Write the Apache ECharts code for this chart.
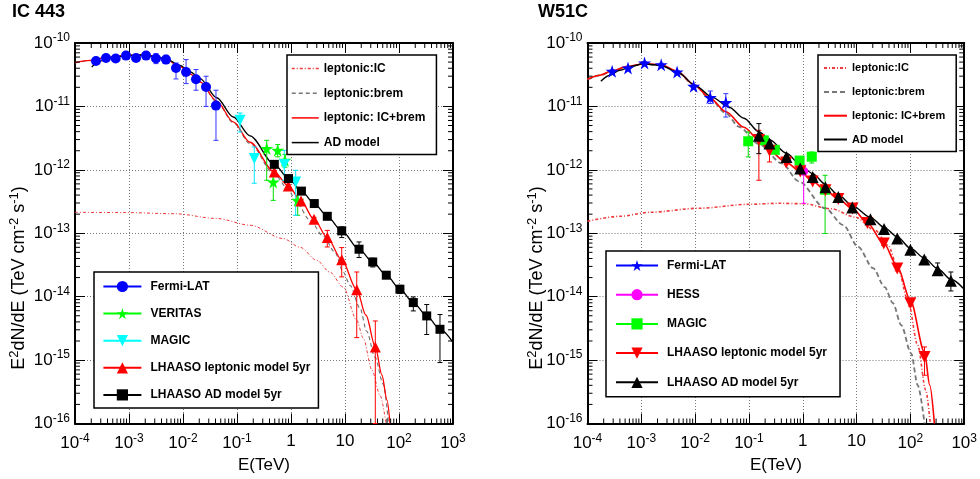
<!DOCTYPE html>
<html><head><meta charset="utf-8">
<script src="https://cdn.jsdelivr.net/npm/echarts@6/dist/echarts.min.js"></script>
<style>html,body{margin:0;padding:0;background:#fff}#c{width:980px;height:479px}</style>
</head><body><div id="c"></div>
<script>
// ---------------- axis ticks ----------------
const xTickExp = [-4, -3, -2, -1, 0, 1, 2, 3];
const yTickExp = [-16, -15, -14, -13, -12, -11, -10];
const X_MIN = 1e-4, X_MAX = 1e3, F_MIN = 1e-16, F_MAX = 1e-10;

// ---------------- IC 443 data: [E (TeV), E2dN/dE, low, high] ----------------
const ic_fermi = [
  [2.45e-4, 5.2e-11, 4.9e-11, 5.5e-11], [3.75e-4, 5.8e-11, 5.5e-11, 6.1e-11],
  [5.67e-4, 5.68e-11, 5.4e-11, 6.0e-11], [8.80e-4, 6.33e-11, 6.0e-11, 6.7e-11],
  [1.35e-3, 5.8e-11, 5.5e-11, 6.1e-11], [2.07e-3, 6.33e-11, 5.9e-11, 6.8e-11],
  [3.16e-3, 5.68e-11, 4.73e-11, 6.8e-11], [4.84e-3, 5.47e-11, 4.73e-11, 6.4e-11],
  [7.42e-3, 4.03e-11, 2.71e-11, 4.84e-11], [1.14e-2, 3.49e-11, 2.29e-11, 5.47e-11],
  [1.74e-2, 2.68e-11, 1.8e-11, 3.81e-11], [2.67e-2, 2.02e-11, 1.0e-11, 2.99e-11],
  [4.08e-2, 1.03e-11, 2.92e-12, 1.8e-11]
];
const ic_veritas = [
  [0.355, 2.16e-12, 6.84e-13, 2.92e-12], [0.47, 6.4e-13, 3.3e-13, 1.18e-12],
  [0.567, 2.03e-12, 1.6e-12, 2.5e-12], [0.774, 1.41e-12, 1.1e-12, 1.75e-12],
  [1.33, 3.31e-13, 1.92e-13, 5.12e-13]
];
const ic_magic = [
  [0.114, 6.04e-12, 3.95e-12, 7.87e-12], [0.209, 1.51e-12, 6.14e-13, 2.29e-12],
  [0.752, 1.21e-12, 6.84e-13, 2.03e-12], [1.22, 6.44e-13, 1.92e-13, 9.84e-13]
];
const ic_lhaasoLep = [
  [0.491, 9.25e-13, 8.8e-13, 9.7e-13], [0.891, 5.57e-13, 5.3e-13, 5.85e-13],
  [1.53, 3.23e-13, 3.05e-13, 3.4e-13], [2.67, 1.66e-13, 1.55e-13, 1.78e-13],
  [4.70, 8.55e-14, 6.08e-14, 1.11e-13], [8.69, 3.82e-14, 2.05e-14, 5.94e-14],
  [16.5, 1.28e-14, 2.26e-15, 2.45e-14], [36.4, 1.61e-15, 1.0e-16, 4.14e-15]
];
const ic_lhaasoAD = [
  [0.491, 1.22e-12, 1.17e-12, 1.27e-12], [0.899, 7.28e-13, 6.95e-13, 7.6e-13],
  [1.56, 4.62e-13, 4.4e-13, 4.85e-13], [2.70, 2.94e-13, 2.8e-13, 3.08e-13],
  [4.70, 1.85e-13, 1.76e-13, 1.95e-13], [8.69, 1.09e-13, 8.55e-14, 1.26e-13],
  [18.2, 5.60e-14, 4.14e-14, 7.29e-14], [32.6, 3.52e-14, 2.94e-14, 4.04e-14],
  [58.2, 2.18e-14, 1.95e-14, 2.43e-14], [104, 1.31e-14, 1.12e-14, 1.51e-14],
  [184, 8.07e-15, 5.96e-15, 9.9e-15], [326, 4.97e-15, 2.53e-15, 7.52e-15],
  [574, 3.06e-15, 9.14e-16, 5.23e-15]
];
// IC 443 model curves: [E, E2dN/dE]
const ic_modelIC = [
  [1.0e-4, 2.14e-13], [8.43e-4, 2.12e-13], [7.11e-3, 2.03e-13], [4.21e-2, 1.71e-13],
  [0.174, 1.34e-13], [0.72, 8.24e-14], [1.47, 6.01e-14], [2.99, 3.75e-14],
  [5.27, 2.43e-14], [9.31, 1.41e-14], [16.5, 4.25e-15], [21.8, 2.21e-15],
  [31.6, 6.92e-16], [44.5, 2.79e-16], [57.4, 1.01e-16]
];
const ic_modelBrem = [
  [1.0e-4, 4.85e-11], [1.90e-4, 5.27e-11], [3.59e-4, 5.79e-11], [6.81e-4, 6.22e-11],
  [1.29e-3, 6.41e-11], [2.45e-3, 6.29e-11], [4.64e-3, 5.58e-11], [8.80e-3, 4.25e-11],
  [1.35e-2, 3.23e-11], [2.07e-2, 2.42e-11], [4.21e-2, 1.19e-11], [8.53e-2, 5.55e-12],
  [0.174, 2.59e-12], [0.491, 8.51e-13], [0.879, 5.03e-13], [1.28, 2.97e-13],
  [2.25, 1.60e-13], [3.96, 8.97e-14], [6.53, 5.01e-14], [9.31, 2.43e-14],
  [12.4, 1.51e-14], [19.0, 6.57e-15], [25.2, 2.85e-15], [35.9, 1.11e-15],
  [51.2, 4.16e-16], [64.0, 1.0e-16]
];
const ic_modelTot = [
  [1.0e-4, 4.91e-11], [1.90e-4, 5.33e-11], [3.59e-4, 5.85e-11], [6.81e-4, 6.28e-11],
  [1.29e-3, 6.47e-11], [2.45e-3, 6.35e-11], [4.64e-3, 5.64e-11], [8.80e-3, 4.30e-11],
  [1.35e-2, 3.27e-11], [2.07e-2, 2.44e-11], [4.21e-2, 1.21e-11], [8.53e-2, 5.69e-12],
  [0.174, 2.72e-12], [0.491, 9.25e-13], [0.891, 5.57e-13], [1.53, 3.23e-13],
  [2.67, 1.66e-13], [4.70, 8.55e-14], [8.69, 3.82e-14], [16.5, 1.28e-14],
  [24.5, 5.09e-15], [36.4, 1.61e-15], [48.4, 5.77e-16], [59.9, 2.33e-16], [68.1, 1.0e-16]
];
const ic_modelAD = [
  [2.04e-4, 4.19e-11], [2.90e-4, 5.15e-11], [4.45e-4, 5.85e-11], [8.43e-4, 6.28e-11],
  [1.60e-3, 6.47e-11], [3.03e-3, 6.17e-11], [4.99e-3, 5.53e-11], [8.80e-3, 4.45e-11],
  [1.35e-2, 3.52e-11], [2.07e-2, 2.75e-11], [4.21e-2, 1.37e-11], [8.53e-2, 6.81e-12],
  [0.174, 3.44e-12], [0.491, 1.22e-12], [0.899, 7.28e-13], [1.56, 4.62e-13],
  [2.70, 2.94e-13], [4.70, 1.85e-13], [8.69, 1.09e-13], [18.2, 5.60e-14],
  [32.6, 3.52e-14], [58.2, 2.18e-14], [104, 1.31e-14], [184, 8.07e-15],
  [326, 4.97e-15], [574, 3.06e-15], [1000, 1.91e-15]
];

// ---------------- W51C data ----------------
const w_fermi = [
  [2.87e-4, 3.58e-11, 3.4e-11, 3.78e-11], [5.66e-4, 4.04e-11, 3.84e-11, 4.25e-11],
  [1.15e-3, 4.84e-11, 4.6e-11, 5.1e-11], [2.34e-3, 4.56e-11, 4.33e-11, 4.8e-11],
  [4.62e-3, 3.49e-11, 3.3e-11, 3.7e-11], [9.38e-3, 2.08e-11, 1.95e-11, 2.2e-11],
  [1.91e-2, 1.38e-11, 1.11e-11, 1.75e-11], [3.72e-2, 1.15e-11, 6.8e-12, 1.59e-11]
];
const w_hess = [[1.04, 9.5e-13, 2.97e-13, 1.18e-12]];
const w_magic = [
  [0.097, 2.82e-12, 1.6e-12, 3.95e-12], [0.189, 2.92e-12, 2.6e-12, 3.2e-12],
  [0.302, 2.07e-12, 1.85e-12, 2.3e-12], [0.873, 1.40e-12, 1.2e-12, 1.6e-12],
  [1.47, 1.61e-12, 1.28e-12, 1.91e-12], [2.60, 4.85e-13, 9.9e-14, 8.2e-13]
];
const w_lhaasoLep = [
  [0.153, 2.96e-12, 6.85e-13, 4.2e-12], [0.241, 2.00e-12, 1.33e-12, 2.29e-12],
  [0.492, 1.31e-12, 1.2e-12, 1.43e-12], [0.899, 9.42e-13, 8.8e-13, 1.0e-12],
  [1.53, 6.56e-13, 6.2e-13, 6.95e-13], [2.64, 4.76e-13, 4.5e-13, 5.05e-13],
  [4.58, 3.46e-13, 3.25e-13, 3.68e-13], [8.41, 2.45e-13, 2.3e-13, 2.6e-13],
  [15.9, 1.45e-13, 1.35e-13, 1.56e-13], [32.0, 6.88e-14, 6.4e-14, 7.4e-14],
  [57.0, 2.77e-14, 2.55e-14, 3.0e-14], [100, 7.87e-15, 7.1e-15, 8.7e-15],
  [183, 1.12e-15, 5.77e-16, 1.61e-15]
];
const w_lhaasoAD = [
  [0.153, 3.44e-12, 1.8e-12, 5.36e-12], [0.241, 2.59e-12, 2.45e-12, 2.75e-12],
  [0.497, 1.60e-12, 1.52e-12, 1.68e-12], [0.899, 1.05e-12, 1.0e-12, 1.1e-12],
  [1.53, 7.71e-13, 7.35e-13, 8.1e-13], [2.64, 5.31e-13, 5.05e-13, 5.6e-13],
  [4.58, 3.73e-13, 3.55e-13, 3.92e-13], [8.32, 2.54e-13, 2.42e-13, 2.67e-13],
  [18.1, 1.66e-13, 1.58e-13, 1.75e-13], [32.4, 1.17e-13, 1.11e-13, 1.23e-13],
  [57.0, 8.24e-14, 7.8e-14, 8.7e-14], [100, 5.50e-14, 5.15e-14, 5.9e-14],
  [181, 3.85e-14, 3.5e-14, 4.2e-14], [321, 2.61e-14, 2.25e-14, 3.4e-14],
  [566, 1.78e-14, 1.23e-14, 2.45e-14]
];
const w_modelIC = [
  [1.0e-4, 1.55e-13], [3.98e-4, 1.85e-13], [1.43e-3, 2.14e-13], [1.19e-2, 2.48e-13],
  [0.100, 2.86e-13], [0.358, 2.97e-13], [1.04, 2.92e-13], [3.40, 2.43e-13],
  [9.44, 1.79e-13], [22.1, 1.11e-13], [38.4, 6.47e-14], [58.7, 2.81e-14],
  [89.8, 8.79e-15], [137, 1.71e-15], [193, 3.35e-16], [234, 1.0e-16]
];
const w_modelBrem = [
  [1.0e-4, 2.66e-11], [1.70e-4, 3.08e-11], [2.87e-4, 3.63e-11], [5.66e-4, 4.27e-11],
  [1.15e-3, 4.67e-11], [2.34e-3, 4.50e-11], [4.62e-3, 3.55e-11], [9.38e-3, 2.20e-11],
  [1.91e-2, 1.32e-11], [3.72e-2, 7.80e-12], [6.53e-2, 4.78e-12], [0.153, 2.55e-12],
  [0.412, 1.26e-12], [0.837, 6.60e-13], [2.61, 2.48e-13], [5.67, 1.34e-13],
  [10.7, 6.08e-14], [20.3, 2.81e-14], [33.4, 1.41e-14], [47.5, 7.87e-15],
  [67.6, 3.54e-15], [103, 1.28e-15], [137, 4.01e-16], [183, 1.0e-16]
];
const w_modelTot = [
  [1.0e-4, 2.68e-11], [1.70e-4, 3.10e-11], [2.87e-4, 3.65e-11], [5.66e-4, 4.30e-11],
  [1.15e-3, 4.70e-11], [2.34e-3, 4.53e-11], [4.62e-3, 3.58e-11], [9.38e-3, 2.23e-11],
  [1.91e-2, 1.34e-11], [3.72e-2, 8.23e-12], [8.09e-2, 4.69e-12], [0.153, 2.96e-12],
  [0.241, 2.00e-12], [0.492, 1.31e-12], [0.899, 9.42e-13], [1.53, 6.56e-13],
  [2.64, 4.76e-13], [4.58, 3.46e-13], [8.41, 2.45e-13], [15.9, 1.45e-13],
  [32.0, 6.88e-14], [57.0, 3.02e-14], [100, 8.79e-15], [183, 1.33e-15],
  [229, 4.01e-16], [279, 1.0e-16]
];
const w_modelAD = [
  [1.77e-4, 2.49e-11], [2.60e-4, 3.10e-11], [3.98e-4, 3.71e-11], [6.63e-4, 4.30e-11],
  [1.07e-3, 4.70e-11], [1.76e-3, 4.53e-11], [2.51e-3, 4.30e-11], [5.10e-3, 3.30e-11],
  [1.04e-2, 2.08e-11], [2.10e-2, 1.39e-11], [4.27e-2, 9.68e-12], [8.09e-2, 6.50e-12],
  [0.153, 3.98e-12], [0.241, 2.99e-12], [0.497, 1.83e-12], [0.899, 1.21e-12],
  [1.53, 8.70e-13], [2.64, 5.90e-13], [4.58, 4.00e-13], [8.32, 2.73e-13],
  [18.1, 1.78e-13], [32.4, 1.24e-13], [57.0, 8.80e-14], [100, 5.80e-14],
  [181, 4.07e-14], [321, 2.76e-14], [566, 1.88e-14], [1000, 1.31e-14]
];

// ---------------- helpers ----------------
// ECharts log scale rounds tiny tick values to 0, so y is plotted in units of 1e-16.
const Y_UNIT = 1e-16;
const sy = v => v / Y_UNIT;
const YS_MIN = sy(F_MIN), YS_MAX = sy(F_MAX);
const FONT = 'Liberation Sans, Arial, Helvetica, sans-serif';
const STAR = 'path://M50,0 L61,35 L98,35 L68,57 L79,91 L50,70 L21,91 L32,57 L2,35 L39,35 Z';
const DTRI = 'path://M0,0 L100,0 L50,87 Z';

function curve(name, arr, gi, color, width, type) {
  return { name, type: 'line', xAxisIndex: gi * 2, yAxisIndex: gi * 2, data: arr.map(d => [d[0], sy(d[1])]),
    showSymbol: false, symbol: 'none', smooth: 0.3, smoothMonotone: 'x', z: 2, silent: true,
    lineStyle: { color, width, type: type || 'solid' }, itemStyle: { color } };
}
function errBars(arr, gi, color) {
  return { type: 'custom', xAxisIndex: gi * 2, yAxisIndex: gi * 2, silent: true, z: 3,
    data: arr.map(d => [d[0], sy(d[1]), sy(d[2]), sy(d[3])]), encode: { x: 0, y: 1 },
    renderItem: (p, api) => {
      const x = api.value(0);
      const a = api.coord([x, api.value(2)]), b = api.coord([x, api.value(3)]);
      const st = { stroke: color, lineWidth: 1 }, cw = 2.5;
      return { type: 'group', children: [
        { type: 'line', shape: { x1: a[0], y1: a[1], x2: b[0], y2: b[1] }, style: st },
        { type: 'line', shape: { x1: a[0] - cw, y1: a[1], x2: a[0] + cw, y2: a[1] }, style: st },
        { type: 'line', shape: { x1: b[0] - cw, y1: b[1], x2: b[0] + cw, y2: b[1] }, style: st }
      ] };
    } };
}
function points(name, arr, gi, color, symbol, size) {
  return { name, type: 'scatter', xAxisIndex: gi * 2, yAxisIndex: gi * 2, z: 4, silent: true,
    data: arr.map(d => [d[0], sy(d[1])]), symbol, symbolSize: size, itemStyle: { color, opacity: 1 } };
}
function legendDummy(name, gi, color, symbol) {
  return { name, type: 'line', xAxisIndex: gi * 2, yAxisIndex: gi * 2, data: [], symbol,
    itemStyle: { color }, lineStyle: { color, width: 2 } };
}
const minorX = [], minorY = [];
for (let e = -4; e < 3; e++) for (let m = 2; m <= 9; m++) minorX.push(m * Math.pow(10, e));
for (let e = 0; e < 6; e++) for (let m = 2; m <= 9; m++) minorY.push(m * Math.pow(10, e));
function minorTicks(gi) {
  const L = 5, st = { stroke: '#000', lineWidth: 1 };
  return [
    { type: 'custom', xAxisIndex: gi * 2, yAxisIndex: gi * 2, silent: true, z: 5,
      data: minorX.map(v => [v, YS_MIN]), encode: { x: 0, y: 1 },
      renderItem: (p, api) => {
        const v = api.value(0), b = api.coord([v, YS_MIN]), t = api.coord([v, YS_MAX]);
        return { type: 'group', children: [
          { type: 'line', shape: { x1: b[0], y1: b[1], x2: b[0], y2: b[1] - L }, style: st },
          { type: 'line', shape: { x1: t[0], y1: t[1], x2: t[0], y2: t[1] + L }, style: st }] };
      } },
    { type: 'custom', xAxisIndex: gi * 2, yAxisIndex: gi * 2, silent: true, z: 5,
      data: minorY.map(v => [X_MIN, v]), encode: { x: 0, y: 1 },
      renderItem: (p, api) => {
        const v = api.value(1), l = api.coord([X_MIN, v]), r = api.coord([X_MAX, v]);
        return { type: 'group', children: [
          { type: 'line', shape: { x1: l[0], y1: l[1], x2: l[0] + L, y2: l[1] }, style: st },
          { type: 'line', shape: { x1: r[0], y1: r[1], x2: r[0] - L, y2: r[1] }, style: st }] };
      } }
  ];
}
const supRich = { s: { fontSize: 12, fontFamily: FONT, color: '#000', padding: [0, 0, 10, 0] } };
const supRichT = { s: { fontSize: 13, fontFamily: FONT, color: '#000', padding: [0, 0, 10, 0] } };
function xAx(gi, primary) {
  return { type: 'log', logBase: 10, gridIndex: gi, position: primary ? 'bottom' : 'top', min: X_MIN, max: X_MAX, splitNumber: 7,
    axisLine: { show: true, onZero: false, lineStyle: { color: '#000', width: 2 } },
    axisTick: { show: true, inside: true, length: 10, lineStyle: { color: '#000', width: 1 } },
    axisLabel: primary ? { show: true, margin: 9, fontSize: 17, fontFamily: FONT, color: '#000', rich: supRich,
      formatter: v => { const e = Math.round(Math.log10(v)); if (!xTickExp.includes(e)) return '';
        return e === 0 ? '1' : e === 1 ? '10' : '10{s|' + e + '}'; } } : { show: false },
    splitLine: primary ? { show: true, lineStyle: { color: '#777', type: [1, 2], width: 1 } } : { show: false },
    name: primary ? 'E(TeV)' : '', nameLocation: 'middle', nameGap: 32,
    nameTextStyle: { fontSize: 17, fontFamily: FONT, color: '#000' } };
}
function yAx(gi, primary) {
  return { type: 'log', logBase: 10, gridIndex: gi, position: primary ? 'left' : 'right', min: YS_MIN, max: YS_MAX, splitNumber: 6,
    axisLine: { show: true, onZero: false, lineStyle: { color: '#000', width: 2 } },
    axisTick: { show: true, inside: true, length: 10, lineStyle: { color: '#000', width: 1 } },
    axisLabel: primary ? { show: true, margin: 5, fontSize: 17, fontFamily: FONT, color: '#000', rich: supRich,
      formatter: v => { const e = Math.round(Math.log10(v * Y_UNIT)); if (!yTickExp.includes(e)) return '';
        return '10{s|' + e + '}'; } } : { show: false },
    splitLine: primary ? { show: true, lineStyle: { color: '#777', type: [1, 2], width: 1 } } : { show: false } };
}
function legendBox(o) {
  return Object.assign({ orient: 'vertical', itemHeight: 14, selectedMode: false, z: 10,
    borderColor: '#000', borderWidth: 1.5, backgroundColor: '#fff', borderRadius: 0,
    formatter: n => n.slice(2) }, o);
}
const modelItem = n => ({ name: n, itemStyle: { opacity: 0 } });

const series = [
  // IC 443
  curve('a|leptonic:IC', ic_modelIC, 0, '#ee3a3a', 1, [3, 2, 1, 2]),
  curve('a|leptonic:brem', ic_modelBrem, 0, '#777777', 1.2, [4, 3]),
  curve('a|leptonic: IC+brem', ic_modelTot, 0, '#ff0000', 1.3),
  curve('a|AD model', ic_modelAD, 0, '#000000', 1.3),
  errBars(ic_fermi, 0, '#3333ff'), errBars(ic_veritas, 0, '#00dd00'), errBars(ic_magic, 0, '#00e5ff'),
  errBars(ic_lhaasoLep, 0, '#ff0000'), errBars(ic_lhaasoAD, 0, '#000000'),
  points('ic-fermi', ic_fermi, 0, '#0000ff', 'circle', 10),
  points('ic-veritas', ic_veritas, 0, '#00ff00', STAR, 13),
  points('ic-magic', ic_magic, 0, '#00ffff', DTRI, 11),
  points('ic-lep', ic_lhaasoLep, 0, '#ff0000', 'triangle', 11),
  points('ic-ad', ic_lhaasoAD, 0, '#000000', 'rect', 9),
  legendDummy('a|Fermi-LAT', 0, '#0000ff', 'circle'),
  legendDummy('a|VERITAS', 0, '#00ff00', STAR),
  legendDummy('a|MAGIC', 0, '#00ffff', DTRI),
  legendDummy('a|LHAASO leptonic model 5yr', 0, '#ff0000', 'triangle'),
  legendDummy('a|LHAASO AD model 5yr', 0, '#000000', 'rect'),
  ...minorTicks(0),
  // W51C
  curve('b|leptonic:IC', w_modelIC, 1, '#ee3a3a', 1.6, [3, 2, 1, 2]),
  curve('b|leptonic:brem', w_modelBrem, 1, '#777777', 1.8, [5, 3]),
  curve('b|leptonic: IC+brem', w_modelTot, 1, '#ff0000', 1.6),
  curve('b|AD model', w_modelAD, 1, '#000000', 1.4),
  errBars(w_fermi, 1, '#3333ff'), errBars(w_hess, 1, '#ff00ff'), errBars(w_magic, 1, '#00dd00'),
  errBars(w_lhaasoLep, 1, '#ff0000'), errBars(w_lhaasoAD, 1, '#000000'),
  points('w-fermi', w_fermi, 1, '#0000ff', STAR, 13),
  points('w-hess', w_hess, 1, '#ff00ff', 'circle', 9),
  points('w-magic', w_magic, 1, '#00ff00', 'rect', 10),
  points('w-lep', w_lhaasoLep, 1, '#ff0000', DTRI, 12),
  points('w-ad', w_lhaasoAD, 1, '#000000', 'triangle', 12),
  legendDummy('b|Fermi-LAT', 1, '#0000ff', STAR),
  legendDummy('b|HESS', 1, '#ff00ff', 'circle'),
  legendDummy('b|MAGIC', 1, '#00ff00', 'rect'),
  legendDummy('b|LHAASO leptonic model 5yr', 1, '#ff0000', DTRI),
  legendDummy('b|LHAASO AD model 5yr', 1, '#000000', 'triangle'),
  ...minorTicks(1)
];

const legTxt = (fs) => ({ fontFamily: FONT, fontWeight: 'bold', fontSize: fs, color: '#000' });
const option = {
  animation: false,
  backgroundColor: '#fff',
  grid: [
    { left: 75, top: 43, width: 378, height: 380.5 },
    { left: 587.5, top: 43, width: 379.2, height: 380.5 }
  ],
  xAxis: [xAx(0, true), xAx(0, false), xAx(1, true), xAx(1, false)],
  yAxis: [yAx(0, true), yAx(0, false), yAx(1, true), yAx(1, false)],
  legend: [
    legendBox({ left: 287, top: 55, itemWidth: 27, itemGap: 12.7, padding: [7.5, 11, 6, 4],
      textStyle: legTxt(12), lineStyle: { width: 1.5 },
      data: ['a|leptonic:IC', 'a|leptonic:brem', 'a|leptonic: IC+brem', 'a|AD model'].map(modelItem) }),
    legendBox({ left: 94, top: 272, itemWidth: 38, itemGap: 15.1, padding: [8.5, 8, 7, 8.4],
      textStyle: Object.assign(legTxt(12), { padding: [0, 0, 0, 4] }), lineStyle: { width: 2 },
      data: ['a|Fermi-LAT', 'a|VERITAS', 'a|MAGIC', 'a|LHAASO leptonic model 5yr', 'a|LHAASO AD model 5yr'] }),
    legendBox({ left: 818, top: 55, itemWidth: 23, itemGap: 12.6, padding: [7.5, 11, 6.5, 5],
      textStyle: legTxt(11), lineStyle: { width: 2 },
      data: ['b|leptonic:IC', 'b|leptonic:brem', 'b|leptonic: IC+brem', 'b|AD model'].map(modelItem) }),
    legendBox({ left: 606, top: 251, itemWidth: 42, itemGap: 17.2, padding: [8.5, 13, 8.5, 9],
      textStyle: Object.assign(legTxt(12), { padding: [0, 0, 0, 4] }), lineStyle: { width: 2 },
      data: ['b|Fermi-LAT', 'b|HESS', 'b|MAGIC', 'b|LHAASO leptonic model 5yr', 'b|LHAASO AD model 5yr'] })
  ],
  graphic: [
    { type: 'text', left: 12, top: 3, style: { text: 'IC 443', fontSize: 18, fontWeight: 'bold', fontFamily: FONT, fill: '#000' } },
    { type: 'text', left: 538, top: 3, style: { text: 'W51C', fontSize: 18, fontWeight: 'bold', fontFamily: FONT, fill: '#000' } },
    { type: 'text', x: 19, y: 278, rotation: Math.PI / 2,
      style: { text: 'E{s|2}dN/dE (TeV cm{s|-2} s{s|-1})', fontSize: 18, fontFamily: FONT, fill: '#000',
        align: 'center', verticalAlign: 'middle', rich: supRichT } },
    { type: 'text', x: 537, y: 278, rotation: Math.PI / 2,
      style: { text: 'E{s|2}dN/dE (TeV cm{s|-2} s{s|-1})', fontSize: 18, fontFamily: FONT, fill: '#000',
        align: 'center', verticalAlign: 'middle', rich: supRichT } }
  ],
  series
};
const chart = echarts.init(document.getElementById('c'), null, { renderer: 'canvas' });
chart.setOption(option);
</script></body></html>
